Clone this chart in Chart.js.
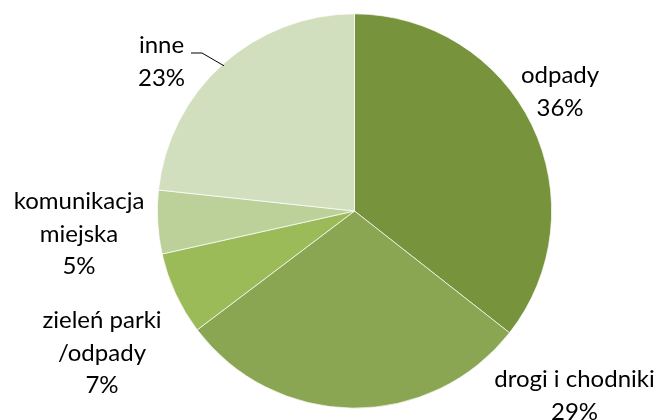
<!DOCTYPE html>
<html lang="pl">
<head>
    <meta charset="UTF-8">
    <title>Wydatki</title>
    <script src="https://cdn.jsdelivr.net/npm/chart.js"></script>
    <style>
        body { margin: 0; background: #fff; }
        #wrap { width: 662px; height: 420px; }
    </style>
</head>
<body>
    <div id="wrap"><canvas id="pieChart" width="662" height="420"></canvas></div>

    <script>
        // dane
        var categories = ['odpady', 'drogi i chodniki', 'zieleń parki /odpady', 'komunikacja miejska', 'inne'];
        var labelLines = [['odpady'], ['drogi i chodniki'], ['zieleń parki', '/odpady'], ['komunikacja', 'miejska'], ['inne']];
        var shares = [35.6, 29.1, 6.8, 5.2, 23.3];
        var colors = ['#77933c', '#8aa652', '#9bbb59', '#bcd09a', '#d2dfbf'];

        // miejsca etykiet (środek bloku tekstu, względem środka koła)
        var labelPos = [[205.5, -119], [220, 185], [-252.5, 142], [-275.5, 23], [-193, -149]];

        var labelPlugin = {
            id: 'pieLabels',
            afterDatasetsDraw: function(chart) {
                var ctx = chart.ctx;
                var meta = chart.getDatasetMeta(0);
                var cx = meta.data[0].x, cy = meta.data[0].y, r = meta.data[0].outerRadius;
                ctx.save();
                ctx.font = '24px Lato, sans-serif';
                ctx.fillStyle = '#000';
                ctx.textAlign = 'center';
                ctx.textBaseline = 'middle';
                var lh = 32.5;
                for (var i = 0; i < shares.length; i++) {
                    var lines = labelLines[i].concat([Math.round(shares[i]) + '%']);
                    var x = cx + labelPos[i][0];
                    var y0 = cy + labelPos[i][1] - (lines.length - 1) * lh / 2;
                    for (var j = 0; j < lines.length; j++) {
                        ctx.fillText(lines[j], x, y0 + j * lh);
                    }
                }
                // linia odniesienia dla "inne"
                var a = meta.data[4];
                var ang = (a.startAngle + a.endAngle) / 2;
                var ex = cx + Math.cos(ang) * (r - 2), ey = cy + Math.sin(ang) * (r - 2);
                ctx.strokeStyle = '#000';
                ctx.lineWidth = 1;
                ctx.beginPath();
                ctx.moveTo(cx - 163.5, cy - 158);
                ctx.lineTo(cx - 152.5, cy - 158);
                ctx.lineTo(ex, ey);
                ctx.stroke();
                ctx.restore();
            }
        };

        var ctx = document.getElementById('pieChart').getContext('2d');
        var pieChart = new Chart(ctx, {
            type: 'pie',
            data: {
                labels: categories,
                datasets: [{
                    data: shares,
                    backgroundColor: colors,
                    borderColor: '#ffffff',
                    borderWidth: 0.7
                }]
            },
            options: {
                responsive: false,
                animation: false,
                layout: { padding: { top: 13.5, bottom: 11.5, left: 157, right: 110 } },
                plugins: {
                    legend: { display: false },
                    tooltip: { enabled: false }
                }
            },
            plugins: [labelPlugin]
        });
    </script>
</body>
</html>
